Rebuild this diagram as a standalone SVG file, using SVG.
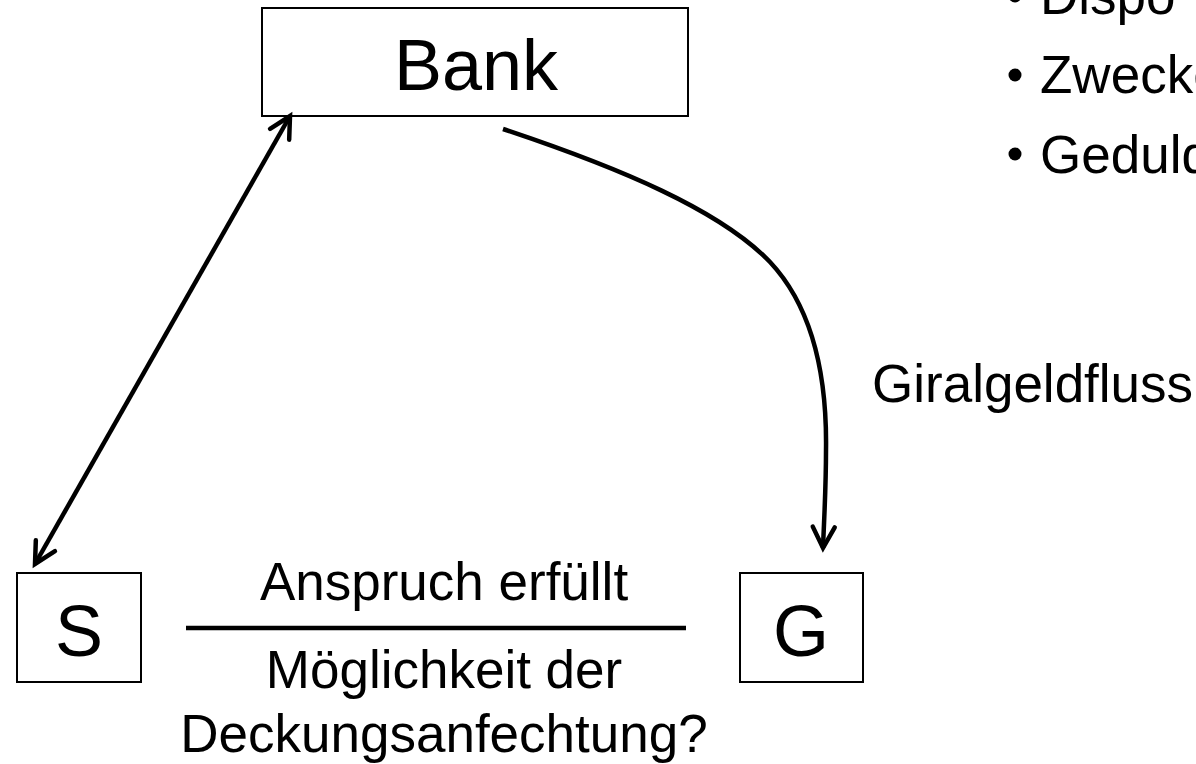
<svg xmlns="http://www.w3.org/2000/svg" width="1196" height="764" viewBox="0 0 1196 764">
  <style>
    .box { fill: #ffffff; stroke: #000000; stroke-width: 2; }
    .big { font-family: "Liberation Sans", Arial, sans-serif; font-size: 72px; fill: #000000; text-anchor: middle; }
    .lbl { font-family: "Liberation Sans", Arial, sans-serif; font-size: 53px; fill: #000000; }
    .mid { text-anchor: middle; }
    .conn { fill: none; stroke: #000000; stroke-width: 4.5; }
  </style>
  <defs>
    <marker id="vhead" markerUnits="userSpaceOnUse" markerWidth="40" markerHeight="40" refX="0" refY="0" viewBox="-30 -20 40 40" orient="auto-start-reverse" overflow="visible">
      <path d="M-21,-11 L0,0 L-21,11" fill="none" stroke="#000000" stroke-width="4.5" stroke-linecap="round" stroke-linejoin="miter"/>
    </marker>
  </defs>
  <rect width="1196" height="764" fill="#ffffff"/>

  <g id="node-bank">
    <rect class="box" x="262" y="8" width="426" height="108"/>
    <text class="big" x="476" y="90">Bank</text>
  </g>
  <g id="node-s">
    <rect class="box" x="17" y="573" width="124" height="109"/>
    <text class="big" x="79" y="656">S</text>
  </g>
  <g id="node-g">
    <rect class="box" x="740" y="573" width="123" height="109"/>
    <text class="big" x="801" y="656">G</text>
  </g>

  <g id="connectors">
    <line class="conn" x1="35" y1="564" x2="290" y2="116" marker-start="url(#vhead)" marker-end="url(#vhead)"/>
    <path class="conn" d="M503,129 C620,168 720,210 770,262 C815,310 827,380 826,450 C826,490 824,520 823,548" marker-end="url(#vhead)"/>
    <line x1="186" y1="628" x2="686" y2="628" stroke="#000000" stroke-width="4.5"/>
  </g>

  <g id="labels">
    <text class="lbl mid" x="444" y="600">Anspruch erfüllt</text>
    <text class="lbl mid" x="444" y="688">Möglichkeit der</text>
    <text class="lbl mid" x="444" y="752">Deckungsanfechtung?</text>
    <text class="lbl" x="872" y="402">Giralgeldfluss</text>
  </g>

  <g id="bullets">
    <circle cx="1015" cy="-4" r="6.5" fill="#000000"/>
    <text class="lbl" x="1040" y="14">Dispo</text>
    <circle cx="1015" cy="75" r="6.5" fill="#000000"/>
    <text class="lbl" x="1040" y="93">Zwecke</text>
    <circle cx="1015" cy="154" r="6.5" fill="#000000"/>
    <text class="lbl" x="1040" y="173">Geduld</text>
  </g>
</svg>
